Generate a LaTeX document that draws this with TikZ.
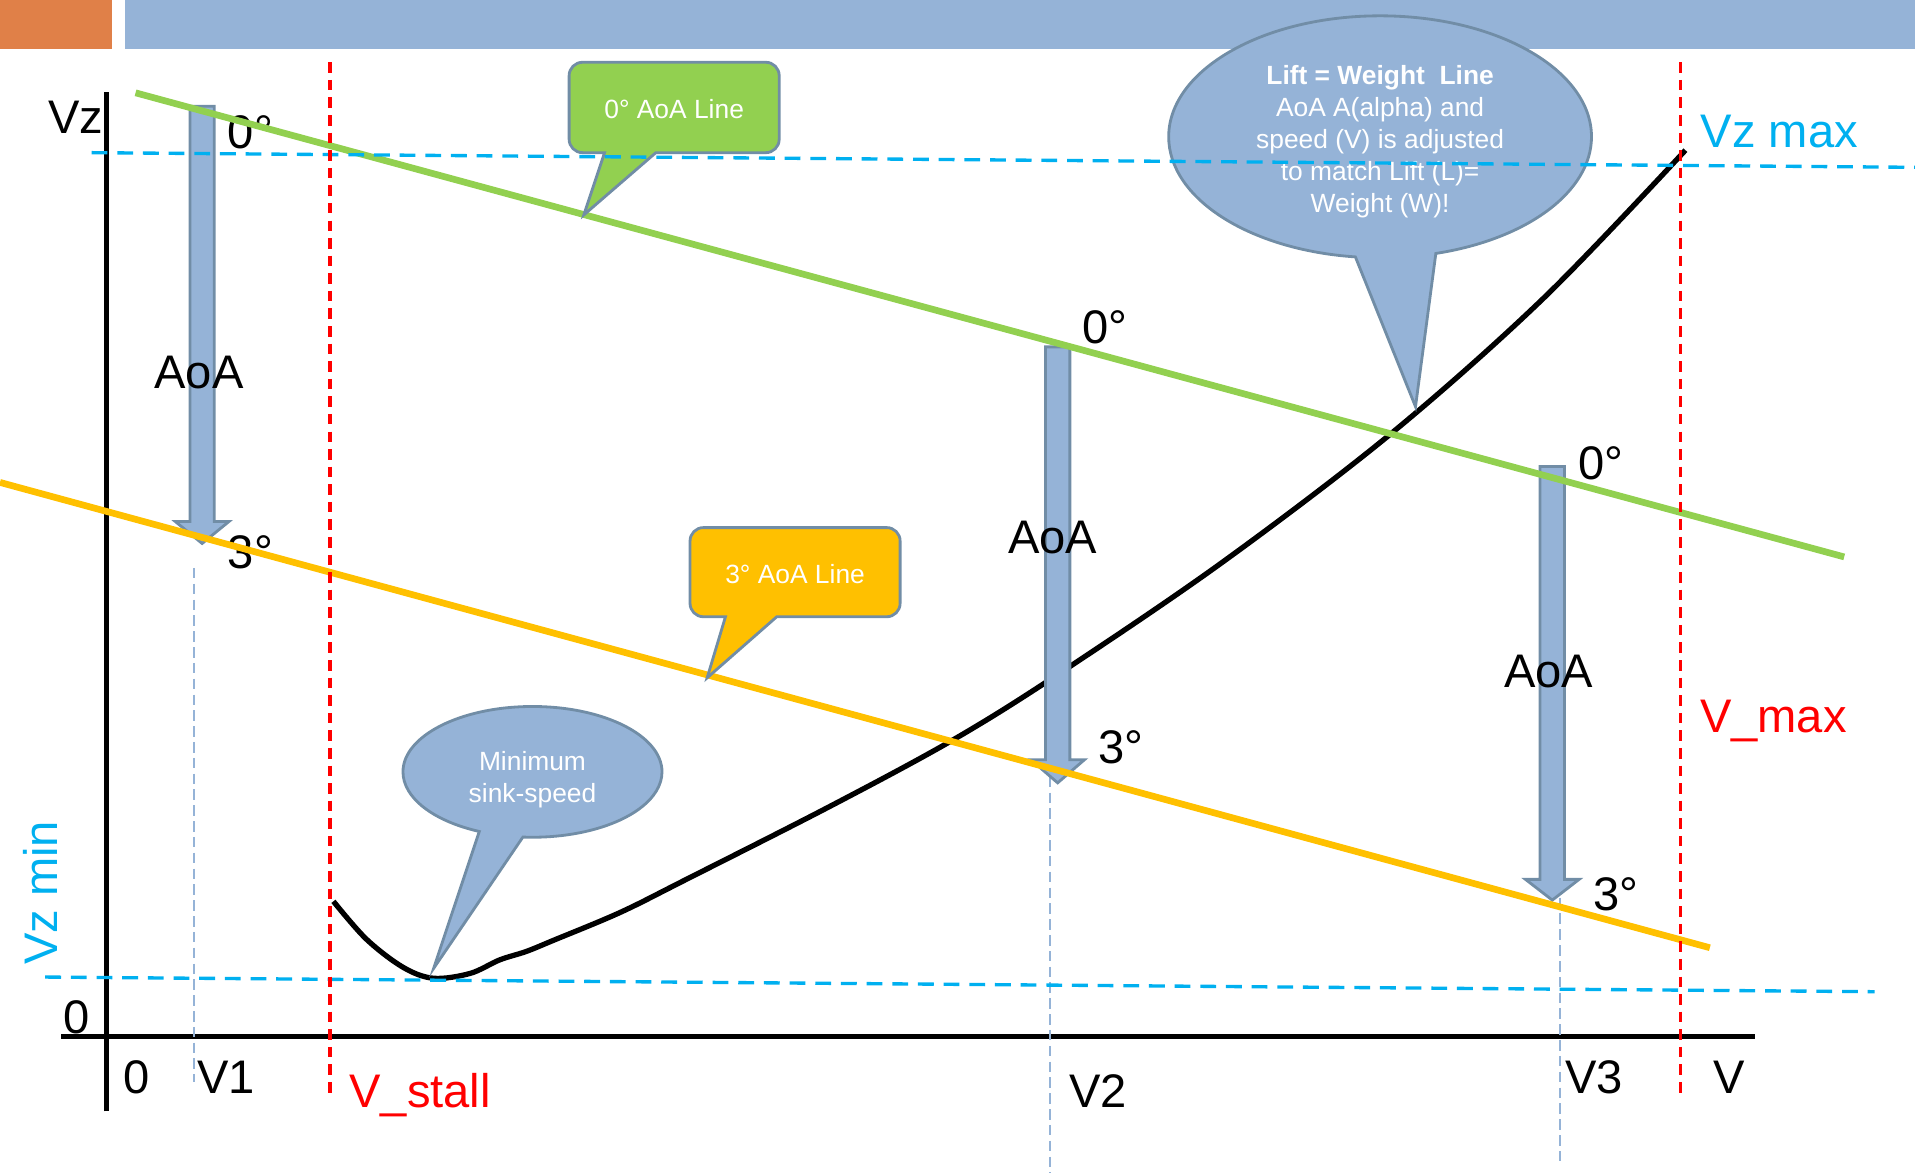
\documentclass[tikz,border=0pt]{standalone}
\usepackage{fontspec}
\setmainfont{Liberation Sans}
\usetikzlibrary{shapes.callouts}

\definecolor{hdrorange}{RGB}{224,128,72}
\definecolor{bluefill}{RGB}{149,179,215}
\definecolor{calloutline}{RGB}{113,141,166}
\definecolor{calgreen}{RGB}{146,208,80}
\definecolor{calyellow}{RGB}{255,192,0}
\definecolor{vzcyan}{RGB}{0,176,240}

\begin{document}
\begin{tikzpicture}[x=0.012213cm,y=-0.012213cm,
	lbl/.style={font=\fontsize{13.4}{16}\selectfont,inner sep=0pt},
	note/.style={font=\fontsize{7.5}{9.1}\selectfont,text=white,align=center,inner sep=0pt},
	box/.style={draw=calloutline,line width=0.8pt},
	aoa/.style={fill=bluefill,draw=calloutline,line width=0.8pt},
	redline/.style={red,line width=1pt,dash pattern=on 3pt off 2pt},
	cyanline/.style={vzcyan,line width=0.95pt,dash pattern=on 4.5pt off 2.8pt},
	thinline/.style={bluefill,line width=0.6pt,dash pattern=on 3pt off 1.5pt}]
	\useasboundingbox (0,0) rectangle (1568,960);
	% title bar
	\fill[hdrorange] (0,0) rectangle (92,40);
	\fill[bluefill] (102,0) rectangle (1568,40);
	% axes
	\coordinate (ytop) at (87,75);
	\coordinate (ybot) at (87,910);
	\coordinate (xleft) at (50,849);
	\coordinate (xright) at (1437,849);
	\draw[line width=1.4pt] (ybot) -- (ytop);
	\draw[line width=1.4pt] (xleft) -- (xright);
	\node[lbl,anchor=base] (vzlab) at (62,109) {Vz};
	\node[lbl,anchor=base] (yzero) at (63,846) {0};
	\node[lbl,anchor=base] (xzero) at (112,895) {0};
	\node[lbl,anchor=base] (v1lab) at (185,895) {V1};
	\node[lbl,anchor=base,text=red] (vstall) at (344,907) {V\_stall};
	\node[lbl,anchor=base] (v2lab) at (899,907) {V2};
	\node[lbl,anchor=base] (v3lab) at (1305,895) {V3};
	\node[lbl,anchor=base] (vlab) at (1416,895) {V};
	\node[lbl,anchor=base,text=vzcyan] (vzmax) at (1457,121) {Vz max};
	\node[lbl,anchor=base,text=red] (vmax) at (1452,600) {V\_max};
	\node[lbl,anchor=base,text=vzcyan,rotate=90] (vzmin) at (47,731) {Vz min};
	% speed marks
	\draw[thinline] (159,465) -- (159,886);
	\draw[thinline] (860,636) -- (860,960);
	\draw[thinline] (1277,735) -- (1277,955);
	% polar curve
	\draw[line width=1.5pt] plot[smooth,tension=0.55] coordinates {(273,738) (300,769) (330,792) (355,801) (385,797) (409,786) (431,779) (453,770) (508,747) (562,720) (680,660) (780,606) (865,553) (1000,461) (1139,355) (1264,244) (1380,123)};
	% AoA arrows
	\foreach \arx/\arytop/\arybase/\arytip in {165.5/87/427/445,866/284/622/641,1271/382/720/737}
		\draw[aoa] (\arx-10,\arytop) -- (\arx+10,\arytop) -- (\arx+10,\arybase) -- (\arx+22,\arybase) -- (\arx,\arytip) -- (\arx-22,\arybase) -- (\arx-10,\arybase) -- cycle;
	\node[lbl] (aoa1) at (163,305) {AoA};
	\node[lbl] (aoa2) at (862,440) {AoA};
	\node[lbl] (aoa3) at (1268,550) {AoA};
	\node[lbl] (deg1a) at (205,108) {0°};
	\node[lbl] (deg1b) at (205,452) {3°};
	\node[lbl] (deg2a) at (905,268) {0°};
	\node[lbl] (deg2b) at (918,612) {3°};
	\node[lbl] (deg3a) at (1311,379) {0°};
	\node[lbl] (deg3b) at (1323,732) {3°};
	% AoA lines
	\coordinate (zeroL) at (111,76);
	\coordinate (zeroR) at (1510,456);
	\coordinate (threeL) at (0,395);
	\coordinate (threeR) at (1400,776);
	\draw[calgreen,line width=1.9pt] (zeroL) -- (zeroR);
	\draw[calyellow,line width=1.9pt] (threeL) -- (threeR);
	% callouts
	\draw[box,fill=calgreen,rounded corners=3.8pt] (552,51) -- (638,51) -- (638,125) [sharp corners] -- (537,125) -- (478,176) -- (495,125) [rounded corners=3.8pt] -- (466,125) -- (466,51) -- cycle;
	\node[note] (zeronote) at (552,89) {0° AoA Line};
	\draw[box,fill=calyellow,rounded corners=3.8pt] (651,432) -- (737,432) -- (737,505) [sharp corners] -- (636,505) -- (579,555) -- (594,505) [rounded corners=3.8pt] -- (565,505) -- (565,432) -- cycle;
	\node[note] (threenote) at (651,470) {3° AoA Line};
	\coordinate (mstip) at (355,793);
	\node[ellipse callout,box,fill=bluefill,minimum width=2.589cm,minimum height=1.307cm,callout absolute pointer={(mstip)},callout pointer arc=20] (msnote) at (436,632) {};
	\node[note] (mstext) at (436,638) {Minimum\\sink-speed};
	\coordinate (lwtip) at (1159,333);
	\node[ellipse callout,box,fill=bluefill,minimum width=4.226cm,minimum height=2.418cm,callout absolute pointer={(lwtip)},callout pointer arc=22] (lwnote) at (1130,112) {};
	\node[note] (lwtext) at (1130,116) {\textbf{Lift = Weight~~Line}\\AoA A(alpha) and\\speed (V) is adjusted\\to match Lift (L)=\\Weight (W)!};
	% limits
	\coordinate (vzmaxL) at (75,125);
	\coordinate (vzmaxR) at (1568,137);
	\coordinate (vzminL) at (37,800);
	\coordinate (vzminR) at (1535,812);
	\draw[cyanline] (vzmaxL) -- (vzmaxR);
	\draw[cyanline] (vzminL) -- (vzminR);
	\draw[redline] (270,51) -- (270,898);
	\draw[redline] (1376,51) -- (1376,898);
\end{tikzpicture}
\end{document}
